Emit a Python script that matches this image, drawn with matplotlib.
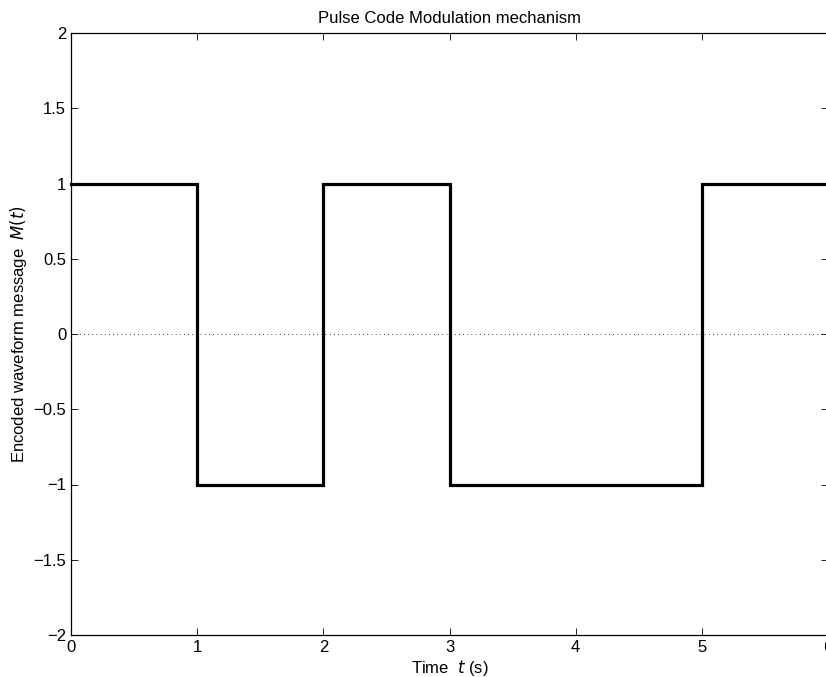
import matplotlib
matplotlib.use("Agg")
import matplotlib.pyplot as plt
import numpy as np

plt.rcParams['font.family'] = ['Liberation Sans', 'DejaVu Sans']

# Encoded bit sequence, one symbol per second
bit_times = [0, 1, 2, 3, 4, 5, 6]
bit_levels = [1, -1, 1, -1, -1, 1]

x_ticks = [0, 1, 2, 3, 4, 5, 6]
y_ticks = [-2, -1.5, -1, -0.5, 0, 0.5, 1, 1.5, 2]
y_tick_labels = ['\u22122', '\u22121.5', '\u22121', '\u22120.5', '0', '0.5', '1', '1.5', '2']

fig = plt.figure(figsize=(8.26, 6.77), dpi=100)
ax = fig.add_axes([71 / 826, 42 / 677, (828 - 71) / 826, 602 / 677])

levels = bit_levels + [bit_levels[-1]]
ax.step(bit_times, levels, where='post', color='black', lw=2.3,
        solid_joinstyle='miter', clip_on=False)
ax.plot([bit_times[0], bit_times[-1]], [0, 0], color='black', lw=0.6,
        linestyle=(0, (1, 4)))

ax.set_xlim(0, 6)
ax.set_ylim(-2, 2)
ax.set_xticks(x_ticks)
ax.set_yticks(y_ticks)
ax.set_yticklabels(y_tick_labels)
ax.tick_params(direction='in', length=5, width=0.6, top=True, right=True,
               labelsize=12, pad=3.5)
for s in ax.spines.values():
    s.set_linewidth(0.9)

ax.set_title('Pulse Code Modulation mechanism', fontsize=12, pad=7)
ax.set_xlabel('Time  $\\it{t}$ (s)', fontsize=12, labelpad=2)
ax.set_ylabel('Encoded waveform message  $\\it{M(t)}$', fontsize=12, labelpad=3)

fig.savefig('out.png', dpi=100)
